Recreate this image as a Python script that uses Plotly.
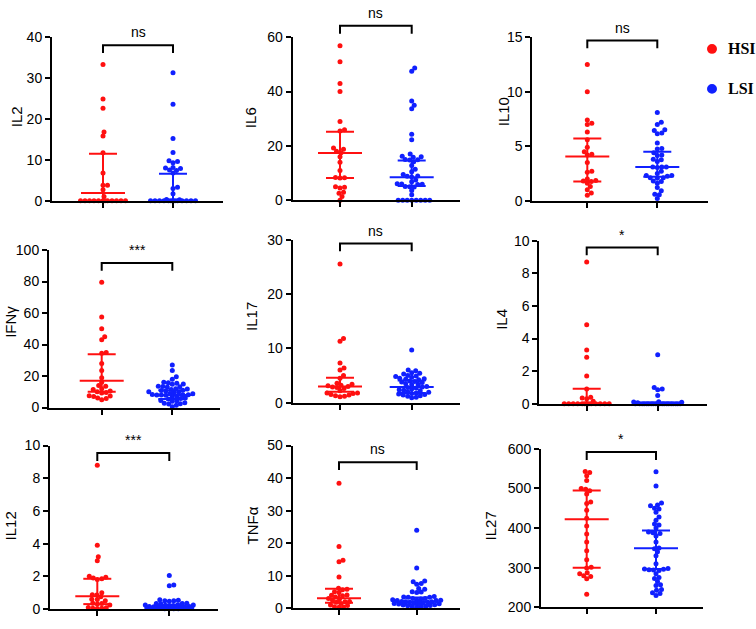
import plotly.graph_objects as go

W, H = 756, 629

CYTOKINES = ["IL2", "IL6", "IL10", "IFNγ", "IL17", "IL4", "IL12", "TNFα", "IL27"]
SIG = ["ns", "ns", "ns", "***", "ns", "*", "***", "ns", "*"]
Y_MIN = [0, 0, 0, 0, 0, 0, 0, 0, 200]
Y_MAX = [40, 60, 15, 100, 30, 10, 10, 50, 600]
Y_DTICK = [10, 20, 5, 20, 10, 2, 2, 10, 100]

IL2_HSI = [33.3, 24.9, 22.6, 16.8, 15.8, 11.7, 6.8, 3.8, 3.8, 2.7, 1.0,
           0, 0, 0, 0, 0, 0, 0, 0, 0, 0, 0, 0]
IL2_LSI = [31.3, 23.6, 15.2, 11.8, 9.8, 9.6, 9.3, 8.1, 8.0, 7.9, 7.5, 7.4, 6.8,
           3.3, 3.0, 1.7, 0.3, 0.25, 0, 0, 0, 0, 0, 0, 0, 0, 0, 0, 0, 0, 0]
IL6_HSI = [56.9, 51.0, 43.0, 40.0, 29.0, 26.0, 25.5, 19.2, 18.8, 18.0, 17.5, 16.0,
           14.0, 11.0, 8.4, 8.3, 8.2, 5.0, 4.8, 4.5, 3.0, 2.6, 1.4, 0.0]
IL6_LSI = [48.7, 47.5, 36.5, 35.0, 33.7, 24.3, 22.3, 17.0, 16.2, 16.0, 15.8, 15.0,
           14.9, 14.8, 14.2, 12.8, 11.4, 10.5, 9.5, 8.9, 8.8, 8.6, 7.5, 6.8, 6.1,
           6.0, 5.9, 5.8, 5.1, 5.0, 4.9, 3.6, 2.0, 0, 0, 0, 0, 0, 0, 0, 0]
IL10_HSI = [12.5, 10.0, 7.4, 7.1, 7.0, 6.3, 5.6, 4.9, 4.5, 4.25, 4.2, 3.5, 2.7,
            2.6, 2.0, 1.85, 1.8, 1.75, 1.6, 1.3, 1.0, 0.7, 0.5]
IL10_LSI = [8.1, 7.2, 7.0, 6.5, 6.45, 6.2, 6.15, 5.3, 4.8, 4.75, 4.4, 4.2, 4.15,
            3.8, 3.75, 3.6, 3.1, 3.1, 3.1, 3.05, 2.7, 2.5, 2.3, 2.3, 2.25, 2.1,
            2.1, 2.05, 1.8, 1.75, 1.6, 1.2, 0.9, 0.6, 0.55, 0.2]
IFNG_HSI = [79.5, 57.5, 50.0, 45.0, 43.0, 35.0, 34.5, 28.0, 23.5, 19.0, 16.0, 14.0,
            13.5, 12.0, 11.5, 10.5, 10.0, 9.5, 9.3, 7.5, 7.3, 7.0, 6.0, 5.8, 5.0]
IFNG_LSI = [27.0, 23.5, 19.5, 18.0, 16.0, 15.8, 15.5, 15.0, 14.8, 13.5, 13.4, 13.2,
            13.0, 12.0, 11.8, 11.5, 11.0, 10.8, 10.5, 10.0, 9.8, 9.5, 9.0, 8.8,
            8.3, 8.2, 8.1, 8.0, 7.9, 7.8, 7.0, 6.8, 6.0, 5.8, 5.5, 4.5, 4.3, 4.0,
            3.0, 2.8, 2.5, 2.2, 1.5, 0.5]
IL17_HSI = [25.5, 11.8, 11.3, 7.3, 6.4, 6.0, 5.0, 4.5, 3.6, 3.4, 3.2, 3.1, 3.0,
            2.9, 2.8, 2.6, 2.2, 1.8, 1.8, 1.7, 1.5, 1.4, 1.3, 1.2, 1.1]
IL17_LSI = [9.7, 6.0, 5.9, 5.5, 5.4, 5.3, 5.0, 4.9, 4.8, 4.7, 4.5, 4.4, 4.3, 4.2,
            4.0, 3.9, 3.8, 3.7, 3.5, 3.4, 3.3, 3.0, 2.9, 2.8, 2.7, 2.5, 2.4, 2.3,
            2.2, 2.0, 1.9, 1.8, 1.7, 1.6, 1.5, 1.4, 1.3, 1.2, 1.0, 0.9]
IL4_HSI = [8.7, 4.85, 3.3, 2.85, 1.7, 0.9, 0.4, 0.35, 0.3, 0.15,
           0, 0, 0, 0, 0, 0, 0, 0, 0, 0, 0, 0, 0]
IL4_LSI = [3.0, 1.0, 0.9, 0.85, 0.5, 0.12, 0.1, 0.08, 0.05,
           0, 0, 0, 0, 0, 0, 0, 0, 0, 0, 0, 0, 0, 0, 0, 0, 0, 0, 0, 0]
IL12_HSI = [8.8, 3.9, 3.2, 2.95, 2.0, 1.95, 1.9, 1.85, 1.8, 1.0, 0.88, 0.85, 0.75,
            0.6, 0.58, 0.5, 0.35, 0.33, 0.3, 0.25, 0.1, 0.08, 0.05, 0.04, 0.03]
IL12_LSI = [2.05, 1.47, 1.43, 0.57, 0.53, 0.5, 0.5, 0.48, 0.35, 0.34, 0.33, 0.32,
            0.26, 0.25, 0.24, 0.23, 0.22, 0.21, 0.15, 0.15, 0.14, 0.14, 0.13, 0.12,
            0.11, 0.1, 0.08, 0.08, 0.07, 0.07, 0.06, 0.05, 0.05, 0.04, 0.03, 0.02,
            0.02, 0.01, 0.01]
TNFA_HSI = [38.4, 19.0, 14.8, 14.3, 9.6, 6.2, 5.9, 5.7, 5.1, 4.9, 4.1, 4.0, 3.9,
            3.5, 3.0, 2.9, 2.5, 2.1, 2.0, 1.9, 1.5, 1.0, 0.9, 0.5, 0.4, 0.3]
TNFA_LSI = [24.0, 12.4, 8.4, 8.2, 7.6, 7.4, 6.1, 5.9, 5.1, 5.0, 4.9, 3.6, 3.5, 3.4,
            3.4, 3.0, 3.0, 2.9, 2.6, 2.5, 2.5, 2.4, 2.4, 2.1, 2.0, 2.0, 1.9, 1.9,
            1.8, 1.6, 1.5, 1.5, 1.4, 1.3, 1.1, 1.0, 0.9, 0.8, 0.6, 0.5, 0.4, 0.3]
IL27_HSI = [543, 540, 532, 520, 500, 498, 494, 486, 466, 462, 445, 425, 405, 385,
            365, 343, 320, 301, 299, 287, 285, 280, 278, 272, 233]
IL27_LSI = [542, 506, 463, 458, 456, 450, 448, 440, 428, 420, 410, 408, 400, 390,
            388, 386, 380, 365, 350, 348, 340, 330, 310, 298, 297, 296, 295, 294,
            293, 285, 275, 273, 265, 257, 255, 245, 243, 237, 235, 230]

HSI = [IL2_HSI, IL6_HSI, IL10_HSI, IFNG_HSI, IL17_HSI, IL4_HSI, IL12_HSI, TNFA_HSI, IL27_HSI]
LSI = [IL2_LSI, IL6_LSI, IL10_LSI, IFNG_LSI, IL17_LSI, IL4_LSI, IL12_LSI, TNFA_LSI, IL27_LSI]

MEDIAN_HSI = [1.9, 17.4, 4.05, 17.0, 3.0, 0.0, 0.78, 3.1, 422]
Q1_HSI = [0.0, 8.2, 1.75, 10.0, 2.0, 0.0, 0.3, 1.7, 300]
Q3_HSI = [11.5, 25.2, 5.7, 33.8, 4.6, 0.92, 1.85, 6.0, 495]
MEDIAN_LSI = [0.0, 8.5, 3.1, 8.0, 2.9, 0.0, 0.12, 2.0, 349]
Q1_LSI = [0.0, 5.3, 2.2, 5.5, 1.8, 0.0, 0.05, 1.1, 297]
Q3_LSI = [6.6, 14.6, 4.5, 11.0, 4.1, 0.05, 0.25, 3.3, 394]

RED = "#FF1010"
BLUE = "#1020FF"
FONT = "Liberation Sans, Arial, sans-serif"

# panel geometry in pixels: axis left, axis right, y bottom, y top, group1 x, group2 x
GEOM = [
    (52, 223, 197.7, 30, 103, 173),
    (292.7, 460, 197.3, 30, 340, 411.7),
    (532.3, 708, 197.7, 30, 587.3, 657.3),
    (49, 220, 410, 248.3, 101.7, 172.3),
    (292.7, 460, 405, 237.7, 340, 411.7),
    (539.3, 707, 406, 239, 586.7, 657.7),
    (50, 218, 616.7, 449, 97.3, 169.3),
    (292.7, 460, 616, 449, 339, 416.7),
    (541, 703, 615, 452.3, 586.7, 656),
]
BRACKET_Y = [38.3, 18.3, 33.3, 261.7, 241.7, 245.7, 456.7, 466, 455.7]
TITLE_POS = [(16, 112), (250, 113), (503, 107), (11, 322), (252, 317),
             (502, 320), (10, 532), (252, 531), (490, 532)]


def px(x):
    return x / W


def py(y):
    return 1 - y / H


def swarm(vals, ppu_y, ppu_x, ymin, d=4.3, maxw=24.0):
    idx = sorted(range(len(vals)), key=lambda i: vals[i])
    cands = [0.0]
    k = 1
    while k * 0.5 <= maxw:
        cands += [k * 0.5, -k * 0.5]
        k += 1
    placed = []
    off = [0.0] * len(vals)
    for i in idx:
        y = (vals[i] - ymin) * ppu_y
        chosen = None
        best, bestd = 0.0, -1.0
        for c in cands:
            md = min([((c - a) ** 2 + (y - b) ** 2) for a, b in placed] or [1e9])
            if md >= d * d:
                chosen = c
                break
            if md > bestd:
                best, bestd = c, md
        if chosen is None:
            chosen = best
        placed.append((chosen, y))
        off[i] = chosen / ppu_x
    return off


fig = go.Figure()
shapes = []
annotations = []

for i, name in enumerate(CYTOKINES):
    xl, xr, yb, yt, g1, g2 = GEOM[i]
    sfx = "" if i == 0 else str(i + 1)
    ppu_x = g2 - g1
    ppu_y = (yb - yt) / (Y_MAX[i] - Y_MIN[i])
    xa = "x" + sfx
    ya = "y" + sfx
    fig.update_layout({
        "xaxis" + sfx: dict(
            domain=[px(xl), px(xr)], anchor=ya,
            range=[(xl - g1) / ppu_x, (xr - g1) / ppu_x],
            showgrid=False, zeroline=False, showline=True, linecolor="black",
            linewidth=2, ticks="outside", ticklen=5, tickwidth=2, tickcolor="black",
            tickvals=[0, 1], showticklabels=False, fixedrange=True),
        "yaxis" + sfx: dict(
            domain=[py(yb), py(yt)], anchor=xa,
            range=[Y_MIN[i], Y_MAX[i]],
            showgrid=False, zeroline=False, showline=True, linecolor="black",
            linewidth=2, ticks="outside", ticklen=5, tickwidth=2, tickcolor="black",
            tick0=Y_MIN[i], dtick=Y_DTICK[i],
            tickfont=dict(family=FONT, size=14, color="black"), fixedrange=True),
    })
    for g, (vals, col, med, q1, q3) in enumerate([
            (HSI[i], RED, MEDIAN_HSI[i], Q1_HSI[i], Q3_HSI[i]),
            (LSI[i], BLUE, MEDIAN_LSI[i], Q1_LSI[i], Q3_LSI[i])]):
        offs = swarm(vals, ppu_y, ppu_x, Y_MIN[i])
        fig.add_trace(go.Scatter(
            x=[g + o for o in offs], y=vals, mode="markers", xaxis=xa, yaxis=ya,
            marker=dict(color=col, size=5, line=dict(width=0)),
            cliponaxis=False, showlegend=False, hoverinfo="y"))
        mw = 22 / ppu_x
        cw = 14 / ppu_x
        fig.add_trace(go.Scatter(
            x=[g - mw, g + mw, None, g - cw, g + cw, None, g - cw, g + cw, None, g, g],
            y=[med, med, None, q1, q1, None, q3, q3, None, q1, q3],
            mode="lines", xaxis=xa, yaxis=ya, line=dict(color=col, width=2),
            cliponaxis=False, showlegend=False, hoverinfo="skip"))
    # significance bracket
    by = BRACKET_Y[i]
    shapes.append(dict(
        type="path", xref="paper", yref="paper",
        path=f"M {px(g1)} {py(by + 8)} L {px(g1)} {py(by)} L {px(g2)} {py(by)} L {px(g2)} {py(by + 8)}",
        line=dict(color="black", width=2)))
    annotations.append(dict(
        x=px((g1 + g2) / 2), y=py(by - 3), xref="paper", yref="paper",
        text=SIG[i], showarrow=False, xanchor="center", yanchor="bottom",
        font=dict(family=FONT, size=14, color="black")))
    tx, ty = TITLE_POS[i]
    annotations.append(dict(
        x=px(tx), y=py(ty), xref="paper", yref="paper", text=name, textangle=-90,
        showarrow=False, xanchor="center", yanchor="middle",
        font=dict(family=FONT, size=15, color="black")))

# legend
for (lab, col, cy) in [("HSI", RED, 42), ("LSI", BLUE, 83)]:
    cx = 712
    r = 5
    shapes.append(dict(type="circle", xref="paper", yref="paper",
                       x0=px(cx - r), x1=px(cx + r), y0=py(cy + r), y1=py(cy - r),
                       fillcolor=col, line=dict(color=col, width=0)))
    annotations.append(dict(x=px(726), y=py(cy), xref="paper", yref="paper",
                            text="<b>" + lab + "</b>", showarrow=False,
                            xanchor="left", yanchor="middle",
                            font=dict(family="Liberation Serif, Times New Roman, serif",
                                      size=16, color="black")))

fig.update_layout(
    width=W, height=H, margin=dict(l=0, r=0, t=0, b=0),
    paper_bgcolor="white", plot_bgcolor="white",
    shapes=shapes, annotations=annotations, showlegend=False,
)

fig.write_html("out.html")
